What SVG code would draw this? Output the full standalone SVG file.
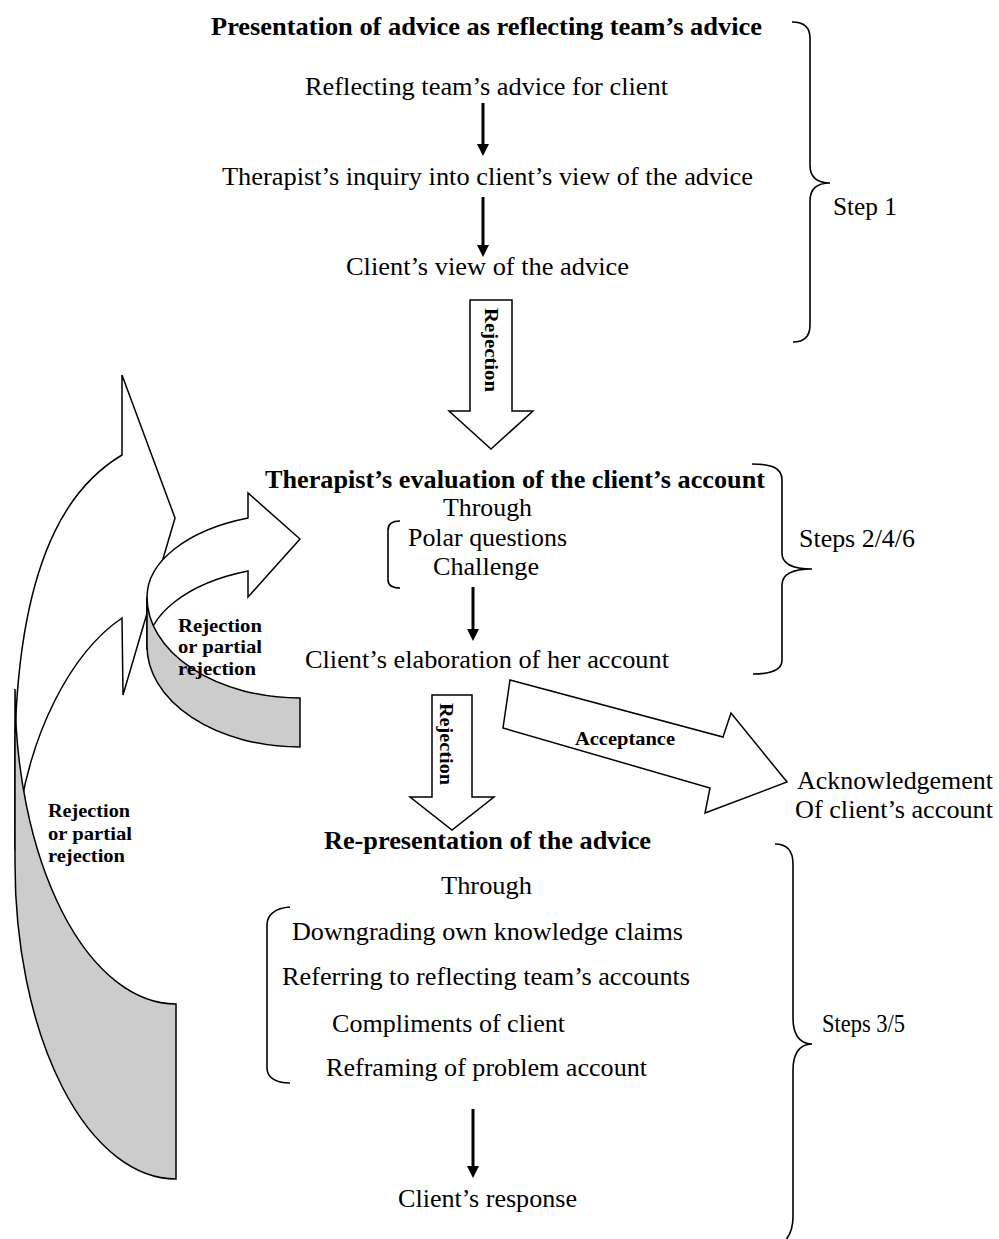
<svg xmlns="http://www.w3.org/2000/svg" width="999" height="1239" viewBox="0 0 999 1239">
  <style>
    .t { font-family: "Liberation Serif", "Times New Roman", serif; font-size: 25px; fill: #000; }
    .b { font-weight: bold; }
    .s { font-family: "Liberation Serif", "Times New Roman", serif; font-size: 19px; font-weight: bold; fill: #000; }
    .brace { fill: none; stroke: #000; stroke-width: 1.6; }
    .block { fill: #fff; stroke: #000; stroke-width: 1.5; stroke-linejoin: miter; }
    .back { fill: #cccccc; stroke: #000; stroke-width: 1.5; }
    .thin { stroke: #000; stroke-width: 3; fill: none; marker-end: url(#head); }
  </style>
  <defs>
    <marker id="head" viewBox="0 0 12 12" refX="4" refY="6" markerWidth="12" markerHeight="12" markerUnits="userSpaceOnUse" orient="auto">
      <path d="M0,0 L12,6 L0,12 Z" fill="#000"/>
    </marker>
  </defs>
  <rect width="999" height="1239" fill="#fff"/>

  <!-- Connectors: big loop arrow, small loop arrow, block arrows, thin arrows -->
  <g id="connectors">
    <g id="loop-outer">
      <path class="block" d="M15,850 L15,740 C20,540 80,480 122,455 L122,375 L175,518 L123,695 L122,618 C75,650 25,730 15,850 Z"/>
      <path class="back" d="M15,689 L15,864 A161,315 0 0 0 176,1179 L176,1004 A161,315 0 0 1 15,689 Z"/>
      <text class="s" x="48" y="817" textLength="82" lengthAdjust="spacingAndGlyphs">Rejection</text>
      <text class="s" x="48" y="840" textLength="84" lengthAdjust="spacingAndGlyphs">or partial</text>
      <text class="s" x="48" y="862" textLength="77" lengthAdjust="spacingAndGlyphs">rejection</text>
    </g>
    <g id="loop-inner">
      <path class="block" d="M147,650 L147,597 A153,84 0 0 1 248,518 L248,493 L300,539 L248,597 L248,571 A153,84 0 0 0 147,650 Z"/>
      <path class="back" d="M147,597 L147,646 A153,101 0 0 0 300,747 L300,698 A153,101 0 0 1 147,597 Z"/>
      <text class="s" x="178" y="632" textLength="84" lengthAdjust="spacingAndGlyphs">Rejection</text>
      <text class="s" x="178" y="653" textLength="84" lengthAdjust="spacingAndGlyphs">or partial</text>
      <text class="s" x="178" y="675" textLength="78" lengthAdjust="spacingAndGlyphs">rejection</text>
    </g>
    <g id="rejection-1">
      <polygon class="block" points="470,300 512,300 512,411 533,411 491,449 449,411 470,411"/>
      <text class="s" transform="translate(485,308) rotate(90)" textLength="84" lengthAdjust="spacingAndGlyphs">Rejection</text>
    </g>
    <g id="rejection-2">
      <polygon class="block" points="432,695 472,695 472,797 494,797 452,830 410,797 432,797"/>
      <text class="s" transform="translate(440,703) rotate(90)" textLength="82" lengthAdjust="spacingAndGlyphs">Rejection</text>
    </g>
    <g id="acceptance">
      <polygon class="block" points="510,680 723,737 731,713 787,782 705,813 710,788 503,728"/>
      <text class="s" x="575" y="745" textLength="100" lengthAdjust="spacingAndGlyphs">Acceptance</text>
    </g>
    <line class="thin" x1="483" y1="103" x2="483" y2="148"/>
    <line class="thin" x1="483" y1="197" x2="483" y2="249"/>
    <line class="thin" x1="473" y1="587" x2="473" y2="633"/>
    <line class="thin" x1="473" y1="1109" x2="473" y2="1170"/>
  </g>

  <!-- Step 1 -->
  <g id="presentation">
    <text class="t b" x="211" y="35" textLength="551" lengthAdjust="spacingAndGlyphs">Presentation of advice as reflecting team’s advice</text>
  </g>
  <g id="team-advice">
    <text class="t" x="305" y="95" textLength="363" lengthAdjust="spacingAndGlyphs">Reflecting team’s advice for client</text>
  </g>
  <g id="inquiry">
    <text class="t" x="222" y="185" textLength="531" lengthAdjust="spacingAndGlyphs">Therapist’s inquiry into client’s view of the advice</text>
  </g>
  <g id="client-view">
    <text class="t" x="346" y="275" textLength="283" lengthAdjust="spacingAndGlyphs">Client’s view of the advice</text>
  </g>
  <g id="step-1">
    <path class="brace" d="M792,22 C804,22 810,28 810,38 L810,165 C810,176 816,183 830,183 C816,183 810,190 810,201 L810,325 C810,336 804,342 793,342"/>
    <text class="t" x="833" y="215" textLength="64" lengthAdjust="spacingAndGlyphs">Step 1</text>
  </g>

  <!-- Steps 2/4/6 -->
  <g id="evaluation">
    <text class="t b" x="265" y="488" textLength="500" lengthAdjust="spacingAndGlyphs">Therapist’s evaluation of the client’s account</text>
    <text class="t" x="443" y="516" textLength="89" lengthAdjust="spacingAndGlyphs">Through</text>
    <path class="brace" d="M400,521 C392,521 388,524 388,530 L388,580 C388,586 392,588 400,588"/>
    <text class="t" x="408" y="546" textLength="159" lengthAdjust="spacingAndGlyphs">Polar questions</text>
    <text class="t" x="433" y="575" textLength="106" lengthAdjust="spacingAndGlyphs">Challenge</text>
  </g>
  <g id="elaboration">
    <text class="t" x="305" y="668" textLength="364" lengthAdjust="spacingAndGlyphs">Client’s elaboration of her account</text>
  </g>
  <g id="steps-2-4-6">
    <path class="brace" d="M752,464 C772,464 782,468 782,480 L782,553 C782,563 792,569 812,569 C792,569 782,575 782,585 L782,660 C782,670 772,674 753,674"/>
    <text class="t" x="799" y="547" textLength="116" lengthAdjust="spacingAndGlyphs">Steps 2/4/6</text>
  </g>
  <g id="acknowledgement">
    <text class="t" x="797" y="789" textLength="196" lengthAdjust="spacingAndGlyphs">Acknowledgement</text>
    <text class="t" x="795" y="818" textLength="198" lengthAdjust="spacingAndGlyphs">Of client’s account</text>
  </g>

  <!-- Steps 3/5 -->
  <g id="re-presentation">
    <text class="t b" x="324" y="849" textLength="327" lengthAdjust="spacingAndGlyphs">Re-presentation of the advice</text>
    <text class="t" x="441" y="894" textLength="91" lengthAdjust="spacingAndGlyphs">Through</text>
    <path class="brace" d="M290,907 C275,908 267,915 267,925 L267,1068 C267,1077 275,1083 290,1083"/>
    <text class="t" x="292" y="940" textLength="391" lengthAdjust="spacingAndGlyphs">Downgrading own knowledge claims</text>
    <text class="t" x="282" y="985" textLength="408" lengthAdjust="spacingAndGlyphs">Referring to reflecting team’s accounts</text>
    <text class="t" x="332" y="1032" textLength="233" lengthAdjust="spacingAndGlyphs">Compliments of client</text>
    <text class="t" x="326" y="1076" textLength="321" lengthAdjust="spacingAndGlyphs">Reframing of problem account</text>
  </g>
  <g id="client-response">
    <text class="t" x="398" y="1207" textLength="179" lengthAdjust="spacingAndGlyphs">Client’s response</text>
  </g>
  <g id="steps-3-5">
    <path class="brace" d="M775,844 C788,844 793,852 793,864 L793,1018 C793,1032 798,1044 812,1044 C798,1044 793,1056 793,1070 L793,1217 C793,1228 790,1236 784,1242"/>
    <text class="t" x="822" y="1032" textLength="83" lengthAdjust="spacingAndGlyphs">Steps 3/5</text>
  </g>
</svg>
